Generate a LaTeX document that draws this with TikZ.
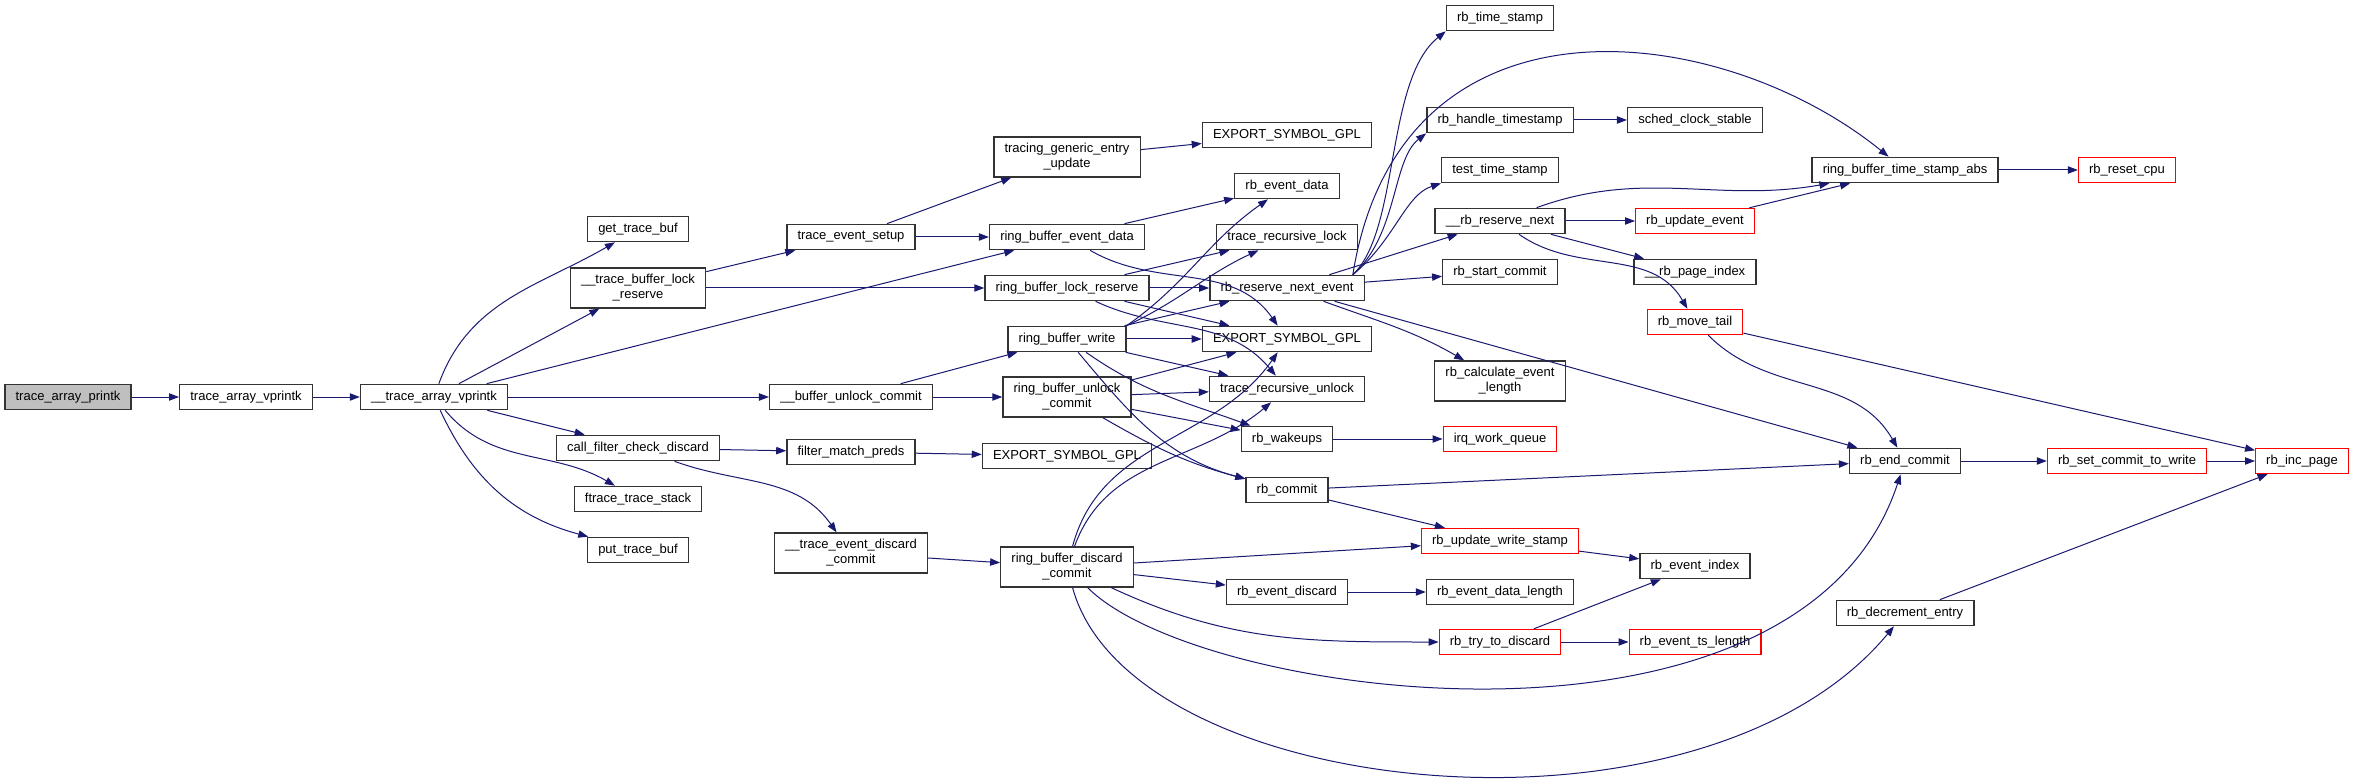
\documentclass[tikz,border=0pt]{standalone}
\usepackage{fontspec}
\setmainfont{Liberation Sans}
\usepackage{tikz}
\usetikzlibrary{arrows.meta}
\definecolor{edgeblue}{RGB}{25,25,112}
\definecolor{fngray}{RGB}{191,191,191}
\definecolor{cutred}{RGB}{255,0,0}
\tikzset{
  fn/.style={draw=black!80, line width=1pt, fill=white, align=center, inner xsep=8pt, inner ysep=0pt, minimum height=19pt, font=\fontsize{9.75}{11.25}\selectfont},
  fnred/.style={fn, draw=cutred, line width=0.8pt},
  fn2/.style={fn, minimum height=30pt},
  arr/.style={-{Triangle[length=7.5pt,width=5.5pt]}, line width=0.75pt, draw=edgeblue},
}
\begin{document}
\begin{tikzpicture}[x=0.75pt,y=-0.75pt]
  \useasboundingbox (0,0) rectangle (2353,784);
  % callers
  \node[fn, fill=fngray] (printk) at (68,397) {trace\_array\_printk};
  \node[fn] (vprintk) at (246,397) {trace\_array\_vprintk};
  \node[fn] (tavp) at (434,397) {\_\_trace\_array\_vprintk};
  \node[fn] (gettb) at (638,229) {get\_trace\_buf};
  \node[fn2] (tblr) at (638,288) {\_\_trace\_buffer\_lock\\\_reserve};
  \node[fn] (cfcd) at (638,448) {call\_filter\_check\_discard};
  \node[fn] (fts) at (638,499) {ftrace\_trace\_stack};
  \node[fn] (puttb) at (638,550) {put\_trace\_buf};
  \node[fn] (tes) at (851,237) {trace\_event\_setup};
  \node[fn] (buc) at (851,397) {\_\_buffer\_unlock\_commit};
  \node[fn] (fmp) at (851,452) {filter\_match\_preds};
  \node[fn2] (tedc) at (851,553) {\_\_trace\_event\_discard\\\_commit};
  % ring buffer api
  \node[fn2] (tgeu) at (1067,157) {tracing\_generic\_entry\\\_update};
  \node[fn] (rbed) at (1067,237) {ring\_buffer\_event\_data};
  \node[fn] (rblr) at (1067,288) {ring\_buffer\_lock\_reserve};
  \node[fn] (rbw) at (1067,339) {ring\_buffer\_write};
  \node[fn2] (rbuc) at (1067,397) {ring\_buffer\_unlock\\\_commit};
  \node[fn] (esglow) at (1067,456) {EXPORT\_SYMBOL\_GPL};
  \node[fn2] (rbdc) at (1067,567) {ring\_buffer\_discard\\\_commit};
  \node[fn] (esgtop) at (1287,135) {EXPORT\_SYMBOL\_GPL};
  \node[fn] (rbevd) at (1287,186) {rb\_event\_data};
  \node[fn] (trl) at (1287,237) {trace\_recursive\_lock};
  \node[fn] (rbrne) at (1287,288) {rb\_reserve\_next\_event};
  \node[fn] (esgmid) at (1287,339) {EXPORT\_SYMBOL\_GPL};
  \node[fn] (tru) at (1287,389) {trace\_recursive\_unlock};
  \node[fn] (wake) at (1287,439) {rb\_wakeups};
  \node[fn] (rbc) at (1287,490) {rb\_commit};
  \node[fn] (rbevdisc) at (1287,592) {rb\_event\_discard};
  % rb internals
  \node[fn] (rbts) at (1500,18) {rb\_time\_stamp};
  \node[fn] (rbht) at (1500,120) {rb\_handle\_timestamp};
  \node[fn] (tts) at (1500,170) {test\_time\_stamp};
  \node[fn] (rbrn) at (1500,221) {\_\_rb\_reserve\_next};
  \node[fn] (rbsc) at (1500,272) {rb\_start\_commit};
  \node[fn2] (rbcel) at (1500,381) {rb\_calculate\_event\\\_length};
  \node[fnred] (irq) at (1500,439) {irq\_work\_queue};
  \node[fnred] (rbuws) at (1500,541) {rb\_update\_write\_stamp};
  \node[fn] (rbedl) at (1500,592) {rb\_event\_data\_length};
  \node[fnred] (rbttd) at (1500,642) {rb\_try\_to\_discard};
  \node[fn] (sched) at (1695,120) {sched\_clock\_stable};
  \node[fnred] (rbue) at (1695,221) {rb\_update\_event};
  \node[fn] (rbpi) at (1695,272) {\_\_rb\_page\_index};
  \node[fnred] (rbmt) at (1695,322) {rb\_move\_tail};
  \node[fn] (rbei) at (1695,566) {rb\_event\_index};
  \node[fnred] (rbetl) at (1695,642) {rb\_event\_ts\_length};
  \node[fn] (rbtsa) at (1905,170) {ring\_buffer\_time\_stamp\_abs};
  \node[fn] (rbec) at (1905,461) {rb\_end\_commit};
  \node[fn] (rbde) at (1905,613) {rb\_decrement\_entry};
  \node[fnred] (rbreset) at (2127,170) {rb\_reset\_cpu};
  \node[fnred] (rbsctw) at (2127,461) {rb\_set\_commit\_to\_write};
  \node[fnred] (rbip) at (2302,461) {rb\_inc\_page};
  % straight calls
  \foreach \a/\b in {printk/vprintk, vprintk/tavp, tavp/tblr, tavp/rbed, tavp/buc, tavp/cfcd,
      tblr/tes, tblr/rblr, tes/tgeu, tes/rbed, tgeu/esgtop, rbed/rbevd,
      rblr/trl, rblr/rbrne, rblr/esgmid, rbw/rbrne, rbw/esgmid, rbw/tru,
      buc/rbw, buc/rbuc, rbuc/esgmid, rbuc/tru, rbuc/wake, cfcd/fmp, fmp/esglow,
      tedc/rbdc, rbdc/rbuws, rbdc/rbevdisc, rbrne/rbrn, rbrne/rbsc, rbrne/rbec,
      rbht/sched, rbrn/rbue, rbrn/rbpi, rbue/rbtsa, rbtsa/rbreset, rbmt/rbip,
      wake/irq, rbc/rbec, rbc/rbuws, rbec/rbsctw, rbsctw/rbip, rbde/rbip,
      rbuws/rbei, rbevdisc/rbedl, rbttd/rbei, rbttd/rbetl}
    \draw[arr] (\a) -- (\b);
  % curved calls
  \draw[arr] (tavp) to[out=70,in=210] (gettb);
  \draw[arr] (tavp) to[out=-50,in=150] (fts);
  \draw[arr] (tavp) to[out=-65,in=165] (puttb);
  \draw[arr] (cfcd) to[out=-20,in=125] (tedc);
  \draw[arr] (rbed) to[out=-30,in=125] (esgmid);
  \draw[arr] (rblr) to[out=-25,in=130] (tru);
  \draw[arr] (rbw.north east) to[out=35,in=215] (rbevd);
  \draw[arr] (rbw.north east) to[out=25,in=205] (trl);
  \draw[arr] (rbw) to[out=-35,in=160] (wake);
  \draw[arr] (rbw) to[out=-50,in=165] (rbc);
  \draw[arr] (rbuc) to[out=-30,in=165] (rbc);
  \draw[arr] (rbdc) to[out=75,in=235] (esgmid);
  \draw[arr] (rbdc) to[out=70,in=220] (tru);
  \draw[arr] (rbdc) to[out=-25,in=180] (rbttd);
  \draw[arr] (rbdc) .. controls (1200,700) and (1800,780) .. (rbec);
  \draw[arr] (rbdc) .. controls (1130,800) and (1700,860) .. (rbde);
  % bundle out of rb_reserve_next_event
  \draw[arr] ([xshift=-9pt]rbrne.north east) .. controls (1400,230) and (1385,80) .. (rbts.south west);
  \draw[arr] ([xshift=-9pt]rbrne.north east) .. controls (1400,-20) and (1720,20) .. (rbtsa);
  \draw[arr] ([xshift=-9pt]rbrne.north east) .. controls (1398,235) and (1392,160) .. (rbht.south west);
  \draw[arr] ([xshift=-9pt]rbrne.north east) .. controls (1395,240) and (1405,195) .. (tts.south west);
  \draw[arr] (rbrne) to[out=-20,in=150] (rbcel);
  \draw[arr] (rbrn) to[out=20,in=190] (rbtsa);
  \draw[arr] (rbrn) to[out=-35,in=120] (rbmt);
  \draw[arr] (rbmt) to[out=-45,in=120] (rbec);
\end{tikzpicture}
\end{document}
